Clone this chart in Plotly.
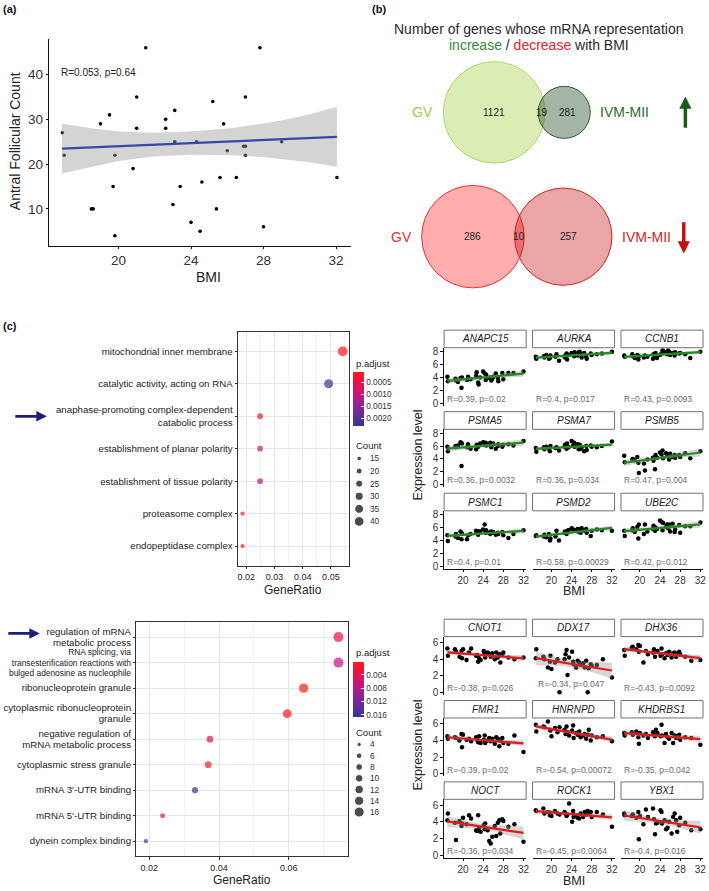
import math
import numpy as np
import plotly.graph_objects as go

W, H = 709, 891
FONT = "Liberation Sans, Arial, Helvetica, sans-serif"

# ------------------------------------------------------------------ data
# (a) antral follicular count vs BMI
afc_bmi = [16.9, 17.0, 18.5, 18.6, 19.0, 19.5, 19.7, 19.8, 19.8, 20.8, 21.0, 21.0, 21.5,
           22.6, 22.6, 23.0, 23.1, 23.1, 23.4, 24.0, 24.3, 24.5, 24.6, 25.2, 25.4, 25.6,
           25.8, 26.0, 26.5, 26.9, 27.0, 27.0, 27.0, 27.8, 28.0, 29.0, 32.05]
afc_count = [27, 22, 10, 10, 29, 31, 15, 22, 4, 19, 28, 35, 46,
             30, 28, 11, 32, 25, 15, 7, 25, 5, 16, 34, 10, 17,
             29, 23, 17, 24, 24, 35, 22, 46, 6, 25, 17]
afc_fit_bmi = [16.88, 32.05]
afc_fit = [23.45, 26.1]
afc_band_bmi = [16.88, 18.5, 20.0, 21.9, 24.0, 26.3, 28.0, 29.05, 30.5, 32.05]
afc_band_lo = [17.9, 19.4, 20.7, 21.7, 22.1, 22.0, 21.6, 21.1, 20.4, 19.4]
afc_band_hi = [29.0, 28.0, 27.3, 27.0, 27.3, 28.1, 29.1, 29.8, 31.1, 32.8]
afc_label = "R=0.053, p=0.64"

# (b) Venn counts: [only GV, both, only IVM-MII]
venn_sets = ["GV", "IVM-MII"]
venn_up = [1121, 19, 281]
venn_down = [286, 10, 257]

# (c) GO enrichment, genes increasing with BMI
go_up_terms = ["mitochondrial inner membrane",
               "catalytic activity, acting on RNA",
               "anaphase-promoting complex-dependent<br>catabolic process",
               "establishment of planar polarity",
               "establishment of tissue polarity",
               "proteasome complex",
               "endopeptidase complex"]
go_up_ratio = [0.0542, 0.0492, 0.0249, 0.0249, 0.0249, 0.0187, 0.0187]
go_up_padj = [0.00008, 0.0022, 0.00010, 0.0010, 0.0010, 0.00005, 0.00006]
go_up_count = [41, 37, 19, 19, 19, 14, 14]
go_up_count_legend = [15, 20, 25, 30, 35, 40]
go_up_padj_ticks = [0.0005, 0.0010, 0.0015, 0.0020]
go_up_xticks = [0.02, 0.03, 0.04, 0.05]

# (c) GO enrichment, genes decreasing with BMI
BIG = "<span style='font-size:9.7px'>%s</span>"
go_down_terms = [BIG % "regulation of mRNA" + "<br>" + BIG % "metabolic process",
                 "RNA splicing, via<br>transesterification reactions with<br>"
                 "bulged adenosine as nucleophile",
                 BIG % "ribonucleoprotein granule",
                 BIG % "cytoplasmic ribonucleoprotein" + "<br>" + BIG % "granule",
                 BIG % "negative regulation of" + "<br>" + BIG % "mRNA metabolic process",
                 BIG % "cytoplasmic stress granule",
                 BIG % "mRNA 3'-UTR binding",
                 BIG % "mRNA 5'-UTR binding",
                 BIG % "dynein complex binding"]
go_down_ratio = [0.0743, 0.0743, 0.0643, 0.0596, 0.0374, 0.0369, 0.0331, 0.0238, 0.0190]
go_down_padj = [0.0030, 0.0070, 0.0004, 0.0006, 0.0050, 0.0015, 0.0155, 0.0040, 0.0160]
go_down_count = [16, 16, 14, 13, 8, 8, 7, 5, 4]
go_down_count_legend = [4, 6, 8, 10, 12, 14, 16]
go_down_padj_ticks = [0.004, 0.008, 0.012, 0.016]
go_down_xticks = [0.02, 0.04, 0.06]

# facets: expression vs BMI (up-regulated genes)
up_bmi = [16.9, 17.0, 18.5, 18.6, 19.0, 19.5, 19.7, 19.8, 20.8, 21.0, 21.5, 22.6, 22.7,
          23.0, 23.1, 23.4, 24.0, 24.3, 24.5, 24.6, 25.2, 25.4, 25.6, 25.8, 26.0, 26.5,
          26.9, 27.0, 27.8, 28.0, 29.0, 30.0, 32.0]
up_genes = ["ANAPC15", "AURKA", "CCNB1", "PSMA5", "PSMA7", "PSMB5", "PSMC1", "PSMD2", "UBE2C"]
up_labels = ["R=0.39, p=0.02", "R=0.4, p=0.017", "R=0.43, p=0.0093",
             "R=0.36, p=0.0032", "R=0.36, p=0.034", "R=0.47, p=0.004",
             "R=0.4, p=0.01", "R=0.58, p=0.00029", "R=0.42, p=0.012"]
anapc15 = [4.1, 3.4, 3.8, 3.5, 3.3, 3.9, 2.4, 4.0, 3.6, 4.1, 3.7, 4.3, 4.8, 3.2, 2.9, 4.0, 4.9,
           4.6, 3.6, 4.4, 3.9, 4.0, 3.5, 3.8, 4.1, 4.6, 3.9, 3.4, 4.7, 3.7, 4.7, 4.7, 4.9]
aurka = [7.2, 6.9, 7.3, 7.1, 7.5, 6.9, 7.0, 7.4, 7.2, 7.6, 6.6, 7.3, 7.1, 7.7, 6.8, 7.5, 7.8,
         7.7, 7.3, 7.9, 7.4, 7.9, 8.0, 7.6, 7.1, 7.8, 7.2, 6.9, 7.7, 7.5, 7.6, 7.7, 8.0]
ccnb1 = [7.4, 7.2, 7.6, 7.3, 7.0, 7.5, 6.8, 7.3, 7.1, 7.4, 7.2, 6.9, 7.6, 7.3, 7.8, 7.0, 7.5,
         7.7, 8.2, 8.1, 7.9, 7.6, 8.2, 8.0, 7.5, 7.8, 7.4, 7.9, 7.7, 7.8, 7.6, 7.0, 8.0]
psma5 = [5.9, 5.2, 6.0, 5.8, 6.1, 6.6, 2.9, 6.4, 5.8, 6.3, 5.6, 5.5, 6.2, 5.9, 6.1, 6.4, 6.6,
         6.2, 6.5, 6.1, 6.3, 6.5, 5.8, 6.2, 6.4, 5.6, 6.0, 6.3, 5.9, 6.2, 6.3, 6.1, 6.8]
psma7 = [5.7, 5.1, 5.8, 5.5, 5.9, 5.6, 5.2, 6.0, 5.7, 5.8, 5.3, 5.9, 6.2, 5.6, 6.4, 5.8, 6.8,
         6.1, 6.5, 5.9, 6.3, 5.5, 6.2, 5.6, 5.8, 5.2, 6.0, 5.4, 6.1, 5.9, 5.8, 6.0, 6.7]
psmb5 = [4.5, 3.5, 3.9, 4.0, 3.8, 4.3, 3.4, 1.8, 3.3, 2.2, 3.9, 4.2, 3.7, 2.4, 4.6, 4.2, 5.0,
         4.7, 5.3, 4.1, 4.9, 4.4, 4.7, 3.9, 4.8, 4.3, 4.6, 4.2, 4.6, 4.3, 4.9, 4.1, 5.2]
psmc1 = [4.8, 3.9, 4.6, 5.0, 4.4, 5.4, 4.2, 5.1, 4.2, 4.8, 5.0, 5.5, 5.3, 4.9, 5.4, 5.4, 5.7,
         6.5, 5.2, 5.6, 5.2, 5.0, 5.4, 5.2, 5.3, 4.9, 5.2, 5.0, 5.3, 4.8, 4.4, 5.0, 5.6]
psmd2 = [4.7, 4.8, 4.6, 4.9, 4.5, 5.0, 4.0, 4.3, 4.6, 5.5, 4.0, 5.2, 5.4, 5.0, 5.5, 5.6, 5.9,
         5.7, 5.5, 5.6, 5.8, 5.3, 5.7, 5.2, 5.9, 5.5, 5.8, 5.2, 4.7, 5.5, 5.7, 5.6, 5.5]
ube2c = [5.5, 4.7, 5.6, 5.9, 5.3, 6.1, 4.3, 6.5, 5.0, 6.5, 5.4, 5.8, 6.3, 5.5, 6.0, 5.8, 7.1,
         6.9, 5.6, 6.7, 6.1, 6.5, 5.9, 6.5, 5.4, 6.6, 5.3, 5.7, 6.4, 5.2, 6.2, 6.2, 6.8]
up_expr = {"ANAPC15": anapc15, "AURKA": aurka, "CCNB1": ccnb1, "PSMA5": psma5,
           "PSMA7": psma7, "PSMB5": psmb5, "PSMC1": psmc1, "PSMD2": psmd2, "UBE2C": ube2c}

# facets: expression vs BMI (down-regulated genes)
down_bmi = [16.9, 17.0, 18.4, 18.6, 19.3, 19.7, 19.8, 20.0, 20.7, 21.2, 21.6, 22.6, 22.8,
            23.0, 23.2, 23.5, 24.1, 24.3, 24.4, 24.9, 25.2, 25.5, 25.8, 26.3, 26.6, 26.9,
            27.2, 27.4, 27.8, 28.0, 29.0, 30.2, 32.0]
down_genes = ["CNOT1", "DDX17", "DHX36", "FMR1", "HNRNPD", "KHDRBS1", "NOCT", "ROCK1", "YBX1"]
down_labels = ["R=-0.38, p=0.026", "R=-0.34, p=0.047", "R=-0.43, p=0.0092",
               "R=-0.39, p=0.02", "R=-0.54, p=0.00072", "R=-0.35, p=0.042",
               "R=-0.36, p=0.034", "R=-0.45, p=0.0064", "R=-0.4, p=0.016"]
cnot1 = [5.3, 4.4, 5.2, 4.9, 4.3, 5.0, 4.1, 5.2, 3.9, 4.8, 5.3, 4.4, 4.5, 3.7, 4.1, 3.9, 5.0,
         4.7, 4.2, 4.8, 4.6, 4.3, 4.7, 4.0, 4.8, 4.2, 4.6, 3.6, 4.5, 4.8, 4.2, 4.0, 4.2]
ddx17 = [4.1, 5.2, 4.3, 4.0, 3.0, 3.7, 4.4, 2.8, 3.6, 4.0, 0.0, 4.0, 4.6, 5.1, 2.1, 4.2, 4.9,
         3.7, 3.4, 3.0, 3.8, 3.6, 3.3, 3.5, 3.0, 3.8, 0.0, 2.9, 3.4, 3.2, 3.3, 4.0, 1.8]
dhx36 = [5.1, 4.4, 5.4, 5.5, 5.2, 5.7, 4.9, 5.6, 3.6, 5.0, 4.6, 4.8, 5.2, 4.3, 4.9, 5.0, 4.4,
         5.3, 4.6, 4.1, 4.7, 4.5, 4.9, 4.2, 4.7, 4.8, 4.3, 4.6, 4.9, 4.6, 4.3, 3.8, 3.9]
fmr1 = [4.5, 4.2, 4.4, 4.3, 4.0, 4.8, 3.2, 4.7, 4.1, 4.2, 3.9, 4.4, 4.1, 3.8, 4.5, 3.7, 4.1,
        4.6, 3.7, 4.0, 4.3, 3.9, 4.2, 3.6, 4.4, 4.2, 3.3, 4.0, 4.3, 3.7, 3.6, 4.6, 2.6]
hnrnpd = [5.9, 5.1, 5.7, 5.6, 6.3, 5.3, 5.2, 4.5, 5.5, 5.0, 5.6, 5.3, 4.8, 5.7, 5.0, 4.6, 5.2,
          5.8, 4.3, 4.9, 4.7, 5.1, 4.4, 4.6, 4.8, 4.2, 4.7, 5.3, 4.0, 4.6, 4.4, 4.5, 3.9]
khdrbs1 = [4.9, 4.6, 5.0, 4.7, 5.1, 4.4, 3.6, 4.9, 4.6, 4.8, 4.3, 5.0, 4.7, 4.5, 5.3, 4.9, 4.5,
           5.9, 4.6, 3.7, 4.8, 4.4, 4.2, 4.9, 3.7, 4.6, 4.3, 4.5, 4.7, 4.1, 4.4, 4.3, 3.5]
noct = [4.2, 5.0, 3.9, 1.8, 4.1, 3.5, 3.8, 4.5, 3.7, 4.8, 4.4, 3.0, 2.9, 4.8, 3.3, 2.8, 3.6,
        3.1, 3.8, 3.0, 1.7, 1.4, 2.2, 3.5, 2.3, 3.9, 4.2, 2.6, 4.3, 4.1, 3.4, 3.7, 1.6]
rock1 = [5.4, 5.3, 5.6, 5.0, 5.2, 4.8, 5.1, 4.7, 5.3, 5.0, 4.9, 5.2, 5.0, 4.7, 4.9, 6.2, 4.0,
         5.3, 4.6, 4.8, 4.5, 4.4, 5.0, 4.6, 5.2, 4.9, 5.3, 5.1, 5.2, 4.6, 5.2, 4.9, 3.4]
ybx1 = [5.0, 4.8, 4.7, 4.9, 4.5, 5.2, 1.9, 4.7, 3.7, 5.5, 4.6, 5.6, 4.3, 2.5, 3.8, 3.9, 5.4,
        5.2, 3.8, 4.2, 3.1, 3.3, 4.0, 2.6, 4.6, 5.0, 4.2, 2.8, 3.6, 4.5, 3.9, 3.0, 3.1]
down_expr = {"CNOT1": cnot1, "DDX17": ddx17, "DHX36": dhx36, "FMR1": fmr1, "HNRNPD": hnrnpd,
             "KHDRBS1": khdrbs1, "NOCT": noct, "ROCK1": rock1, "YBX1": ybx1}
facet_xticks = [20, 24, 28, 32]

# ------------------------------------------------------------------ helpers
def xd(a, b):
    return [a / W, b / W]


def yd(top, bottom):
    return [1 - bottom / H, 1 - top / H]


def px(x):
    return x / W


def py(y):
    return 1 - y / H


def xr(n):
    return "x" if n == 1 else f"x{n}"


def yr(n):
    return "y" if n == 1 else f"y{n}"


def xkey(n):
    return "xaxis" if n == 1 else f"xaxis{n}"


def ykey(n):
    return "yaxis" if n == 1 else f"yaxis{n}"


def t_quant(dof):
    z = 1.959964
    return z + (z ** 3 + z) / (4 * dof) + (5 * z ** 5 + 16 * z ** 3 + 3 * z) / (96 * dof ** 2)


def lm_band(x, y, n=60):
    x = np.asarray(x, float)
    y = np.asarray(y, float)
    b, a = np.polyfit(x, y, 1)
    xs = np.linspace(x.min(), x.max(), n)
    yh = a + b * xs
    res = y - (a + b * x)
    dof = len(x) - 2
    s = math.sqrt(float(np.sum(res ** 2)) / dof)
    xm = x.mean()
    sxx = float(np.sum((x - xm) ** 2))
    se = s * np.sqrt(1 / len(x) + (xs - xm) ** 2 / sxx)
    t = t_quant(dof)
    return xs, yh, yh - t * se, yh + t * se


def dot_size(c, counts, dmin, dmax):
    cmin, cmax = min(counts), max(counts)
    return math.sqrt(dmin ** 2 + (dmax ** 2 - dmin ** 2) * (c - cmin) / (cmax - cmin))


def lens_area(r1, r2, d):
    if d >= r1 + r2:
        return 0.0
    if d <= abs(r1 - r2):
        return math.pi * min(r1, r2) ** 2
    a1 = r1 * r1 * math.acos((d * d + r1 * r1 - r2 * r2) / (2 * d * r1))
    a2 = r2 * r2 * math.acos((d * d + r2 * r2 - r1 * r1) / (2 * d * r2))
    a3 = 0.5 * math.sqrt((-d + r1 + r2) * (d + r1 - r2) * (d - r1 + r2) * (d + r1 + r2))
    return a1 + a2 - a3


def venn_layout(counts, r_left, cx_mid):
    only_l, both, only_r = counts
    nl, nr = only_l + both, only_r + both
    r1 = r_left
    r2 = r_left * math.sqrt(nr / nl)
    target = both / nl * math.pi * r1 * r1
    lo, hi = abs(r1 - r2), r1 + r2
    for _ in range(80):
        mid = (lo + hi) / 2
        if lens_area(r1, r2, mid) > target:
            lo = mid
        else:
            hi = mid
    d = (lo + hi) / 2
    left_edge = cx_mid - (r1 + d + r2) / 2
    c1 = left_edge + r1
    return r1, r2, c1, c1 + d


fig = go.Figure()
layout = dict(width=W, height=H, margin=dict(l=0, r=0, t=0, b=0, pad=0),
              paper_bgcolor="white", plot_bgcolor="rgba(0,0,0,0)", showlegend=False,
              hovermode=False, font=dict(family=FONT, color="#222"))
shapes = []
ann = []


def text(x, y, s, size, color="#222", xa="center", ya="middle", angle=0, xref="paper", yref="paper"):
    ann.append(dict(x=x, y=y, xref=xref, yref=yref, text=s, showarrow=False, xanchor=xa,
                    yanchor=ya, textangle=angle, font=dict(size=size, color=color, family=FONT)))


# ------------------------------------------------------------------ (a)
text(px(1), py(7.5), "<b>(a)</b>", 11, "#111", xa="left")
layout["xaxis"] = dict(domain=xd(49, 352), range=[16.15, 32.8], tickvals=[20, 24, 28, 32],
                       showline=True, linecolor="#111", linewidth=1, ticks="outside", ticklen=2,
                       tickcolor="#111", tickfont=dict(size=13.5, color="#333"),
                       showgrid=False, zeroline=False, anchor="y")
layout["yaxis"] = dict(domain=yd(37, 245), range=[1.8, 48], tickvals=[10, 20, 30, 40],
                       showline=True, linecolor="#111", linewidth=1, ticks="outside", ticklen=2,
                       tickcolor="#111", tickfont=dict(size=13.5, color="#333"),
                       showgrid=False, zeroline=False, anchor="x")
fig.add_trace(go.Scatter(x=afc_bmi, y=afc_count, mode="markers", xaxis="x", yaxis="y",
                         marker=dict(size=3.6, color="#000"), cliponaxis=False))
fig.add_trace(go.Scatter(x=afc_band_bmi + afc_band_bmi[::-1], y=afc_band_lo + afc_band_hi[::-1],
                         fill="toself", fillcolor="rgba(160,160,160,0.45)", line=dict(width=0),
                         mode="lines", xaxis="x", yaxis="y"))
fig.add_trace(go.Scatter(x=afc_fit_bmi, y=afc_fit, mode="lines", xaxis="x", yaxis="y",
                         line=dict(color="#3a45a8", width=2.3)))
text(16.72, 40.5, afc_label, 10, "#222", xa="left", xref="x", yref="y")
text(px(209), py(277), "BMI", 14, "#222")
text(px(15), py(140), "Antral Follicular Count", 14, "#222", angle=-90)

# ------------------------------------------------------------------ (b)
text(px(371.5), py(6.7), "<b>(b)</b>", 11, "#111", xa="left")
text(px(541), py(26.7), "Number of genes whose mRNA representation", 14, "#2a2a2a")
text(px(541), py(43.3), "<span style='color:#3a8a3a'>increase</span> / "
     "<span style='color:#e3242b'>decrease</span> with BMI", 14, "#2a2a2a")
layout["xaxis2"] = dict(domain=xd(345, 709), range=[345, 709], visible=False, anchor="y2")
layout["yaxis2"] = dict(domain=yd(50, 291), range=[291, 50], visible=False, anchor="x2")

venn_styles = [
    (venn_up, 51.0, 111.0,
     ("rgba(154,205,50,0.36)", "#a9d66c"), ("rgba(30,70,30,0.40)", "#2f5a2f"),
     "#9ccc50", "#2e6b2e"),
    (venn_down, 51.5, 236.0,
     ("rgba(255,20,20,0.35)", "#ee3333"), ("rgba(190,0,0,0.35)", "#cc2222"),
     "#e8302a", "#d42424"),
]
for counts, rl, cy, st1, st2, c_l, c_r in venn_styles:
    r1, r2, c1, c2 = venn_layout(counts, rl, 519)
    for (cx, r, (fc, lc)) in [(c1, r1, st1), (c2, r2, st2)]:
        shapes.append(dict(type="circle", xref="x2", yref="y2", x0=cx - r, x1=cx + r,
                           y0=cy - r, y1=cy + r, fillcolor=fc, line=dict(color=lc, width=1),
                           layer="above"))
    text(c1, cy, str(counts[0]), 10, "#222", xref="x2", yref="y2")
    text(((c2 - r2) + (c1 + r1)) / 2, cy, str(counts[1]), 10, "#222", xref="x2", yref="y2")
    text(((c1 + r1) + (c2 + r2)) / 2, cy, str(counts[2]), 10, "#222", xref="x2", yref="y2")
    text(c1 - r1 - 8, cy, venn_sets[0], 14, c_l, xa="right", xref="x2", yref="y2")
    text(c2 + r2 + 8, cy, venn_sets[1], 14, c_r, xa="left", xref="x2", yref="y2")

ann.append(dict(x=688.3, y=95, ax=688.3, ay=128, xref="x2", yref="y2", axref="x2", ayref="y2",
                text="", showarrow=True, arrowhead=2, arrowsize=0.7, arrowwidth=3.5,
                arrowcolor="#1e5a1e", standoff=0))
ann.append(dict(x=686.7, y=253, ax=686.7, ay=220, xref="x2", yref="y2", axref="x2", ayref="y2",
                text="", showarrow=True, arrowhead=2, arrowsize=0.7, arrowwidth=3.5,
                arrowcolor="#c81010", standoff=0))

# ------------------------------------------------------------------ (c) dot plots
text(px(1), py(326), "<b>(c)</b>", 11, "#111", xa="left")
CS = [[0, "#34349a"], [0.3, "#7a2896"], [0.55, "#bd1a82"], [0.8, "#ec1048"], [1, "#ff1a1a"]]


def dotplot(n, nleg, terms, ratio, padj, counts, count_leg, pticks, xticks, box, xrange_,
            prange, dmin, dmax, cb_top, cb_len, ptitle_y, ctitle_y, leg_top, leg_step,
            minor_vals, title_y, yfont, pfmt):
    x0, x1, top, bottom = box
    nt = len(terms)
    layout[xkey(n)] = dict(domain=xd(x0, x1), range=xrange_, tickvals=xticks,
                           ticktext=[f"{v:.2f}" for v in xticks], showline=True, mirror=True,
                           linecolor="#333", linewidth=0.8, ticks="outside", ticklen=2.5,
                           tickcolor="#333", tickfont=dict(size=9, color="#222"),
                           showgrid=True, gridcolor="#e6e6e6", gridwidth=0.9, zeroline=False,
                           minor=dict(tickvals=minor_vals, showgrid=True, gridcolor="#f2f2f2",
                                      gridwidth=0.6, ticks=""),
                           anchor=yr(n))
    layout[ykey(n)] = dict(domain=yd(top, bottom), type="category",
                           categoryorder="array", categoryarray=terms[::-1],
                           range=[-0.6, nt - 0.4], showline=True, mirror=True,
                           linecolor="#333", linewidth=0.8, ticks="outside", ticklen=2.5,
                           tickcolor="#333", tickfont=dict(size=yfont, color="#222"),
                           showgrid=True, gridcolor="#e6e6e6", gridwidth=0.9, zeroline=False,
                           anchor=xr(n))
    sizes = [dot_size(c, counts, dmin, dmax) for c in counts]
    fig.add_trace(go.Scatter(
        x=ratio, y=terms, mode="markers", xaxis=xr(n), yaxis=yr(n), cliponaxis=False,
        marker=dict(size=sizes, color=[-p for p in padj], colorscale=CS,
                    cmin=-prange[1], cmax=-prange[0], showscale=True, line=dict(width=0),
                    colorbar=dict(x=px(355), xanchor="left", y=py(cb_top), yanchor="top",
                                  len=cb_len, lenmode="pixels", thickness=10.5,
                                  thicknessmode="pixels", xpad=0, ypad=0, outlinewidth=0,
                                  tickvals=[-v for v in pticks],
                                  ticktext=[pfmt % v for v in pticks],
                                  ticks="inside", ticklen=2.5, tickcolor="white",
                                  tickfont=dict(size=8.3, color="#333", family=FONT)))))
    text(px((x0 + x1) / 2), py(title_y), "GeneRatio", 12, "#222")
    text(px(355.5), py(ptitle_y), "p.adjust", 9.5, "#222", xa="left")
    text(px(355.5), py(ctitle_y), "Count", 9.5, "#222", xa="left")
    nl = len(count_leg)
    layout[xkey(nleg)] = dict(domain=xd(352, 400), range=[0, 48], visible=False, anchor=yr(nleg))
    layout[ykey(nleg)] = dict(domain=yd(leg_top, leg_top + nl * leg_step),
                              range=[nl - 0.5, -0.5], visible=False, anchor=xr(nleg))
    idx = list(range(nl))
    fig.add_trace(go.Scatter(x=[8.7] * nl, y=idx, mode="markers", xaxis=xr(nleg), yaxis=yr(nleg),
                             marker=dict(size=[dot_size(c, counts, dmin, dmax) for c in count_leg],
                                         color="#000"), cliponaxis=False))
    for i, c in zip(idx, count_leg):
        text(17.5, i, str(c), 8.3, "#333", xa="left", xref=xr(nleg), yref=yr(nleg))


dotplot(3, 4, go_up_terms, go_up_ratio, go_up_padj, go_up_count, go_up_count_legend,
        go_up_padj_ticks, go_up_xticks, (239, 350, 331.7, 566.7), [0.01707, 0.05625],
        (0.00005, 0.0023), 4.3, 9.8, 371.7, 54.3, 363.3, 446, 452.7, 12.67,
        [0.015, 0.025, 0.035, 0.045, 0.055], 591.7, 9.7, "%.4f")
dotplot(5, 6, go_down_terms, go_down_ratio, go_down_padj, go_down_count, go_down_count_legend,
        go_down_padj_ticks, go_down_xticks, (136.7, 349, 623.3, 859.3), [0.0162, 0.0769],
        (0.0, 0.0165), 4.2, 10.0, 663.3, 55, 654.3, 735, 741.0, 11.33,
        [0.03, 0.05, 0.07], 883, 8.4, "%.3f")

ann.append(dict(x=px(47), y=py(416.7), xref="paper", yref="paper", ax=-33, ay=0, text="",
                showarrow=True, arrowhead=2, arrowsize=0.75, arrowwidth=2.8,
                arrowcolor="#1b1f7a", standoff=0))
ann.append(dict(x=px(40), y=py(635), xref="paper", yref="paper", ax=-33, ay=0, text="",
                showarrow=True, arrowhead=2, arrowsize=0.75, arrowwidth=2.8,
                arrowcolor="#1b1f7a", standoff=0))

# ------------------------------------------------------------------ facets
col_x0 = [446, 534.8, 623.6]
col_w = 82.4
FX = [16.25, 32.53]


def facets(start, genes, expr, labels, bmi, row_tops, strip_h, panel_h, yrange, yticks,
           lcolor, label_y, special_y, ytitle_y, xtitle_y):
    for i, g in enumerate(genes):
        r, c = divmod(i, 3)
        n = start + i
        x0 = col_x0[c]
        x1 = x0 + col_w
        top = row_tops[r] + strip_h
        bottom = top + panel_h
        last_row = r == 2
        first_col = c == 0
        layout[xkey(n)] = dict(domain=xd(x0, x1), range=FX, tickvals=facet_xticks,
                               showticklabels=last_row, showline=last_row, linecolor="#111",
                               linewidth=0.8, ticks="outside" if last_row else "", ticklen=2,
                               tickcolor="#111", tickfont=dict(size=10, color="#333"),
                               showgrid=False, zeroline=False, anchor=yr(n))
        layout[ykey(n)] = dict(domain=yd(top, bottom), range=yrange, tickvals=yticks,
                               showticklabels=first_col, showline=first_col, linecolor="#111",
                               linewidth=0.8, ticks="outside" if first_col else "", ticklen=3,
                               tickcolor="#111", tickfont=dict(size=10, color="#333"),
                               showgrid=False, zeroline=False, anchor=xr(n))
        fig.add_trace(go.Scatter(x=bmi, y=expr[g], mode="markers", xaxis=xr(n), yaxis=yr(n),
                                 marker=dict(size=4.5, color="#000"), cliponaxis=False))
        xs, yh, lo, hi = lm_band(bmi, expr[g])
        fig.add_trace(go.Scatter(x=list(xs) + list(xs[::-1]), y=list(lo) + list(hi[::-1]),
                                 fill="toself", fillcolor="rgba(153,153,153,0.4)",
                                 line=dict(width=0), mode="lines", xaxis=xr(n), yaxis=yr(n)))
        fig.add_trace(go.Scatter(x=xs, y=yh, mode="lines", xaxis=xr(n), yaxis=yr(n),
                                 line=dict(color=lcolor, width=2.2)))
        shapes.append(dict(type="rect", xref="paper", yref="paper", x0=px(x0), x1=px(x1),
                           y0=py(top), y1=py(row_tops[r]), fillcolor="white",
                           line=dict(color="#707070", width=1)))
        text(px((x0 + x1) / 2), py(row_tops[r] + strip_h / 2), f"<i>{g}</i>", 10, "#1a1a1a")
        ly = special_y.get(g, label_y)
        lx = 16.95 if g in special_y else 16.5
        text(lx, ly, labels[i], 8.5, "#6a6a6a", xa="left", xref=xr(n), yref=yr(n))
    text(px(420), py(ytitle_y), "Expression level", 12.5, "#222", angle=-90)
    text(px(576), py(xtitle_y), "BMI", 12.5, "#222")


facets(7, up_genes, up_expr, up_labels, up_bmi, [330, 412, 494], 17.7, 58.3,
       [-0.41, 8.61], [0, 2, 4, 6, 8], "#228b22", 0.65, {}, 455.8, 592)
facets(16, down_genes, down_expr, down_labels, down_bmi, [620.7, 702.5, 784.3], 17.5, 58.7,
       [-0.32, 6.72], [0, 2, 4, 6], "#e31a1c", 0.5, {"DDX17": 1.0}, 747.5, 883.5)

layout["shapes"] = shapes
layout["annotations"] = ann
fig.update_layout(**layout)
fig.write_html("out.html", config={"displayModeBar": False},
               post_script="document.body.style.margin='0px';"
                           "document.body.style.overflow='hidden';")
